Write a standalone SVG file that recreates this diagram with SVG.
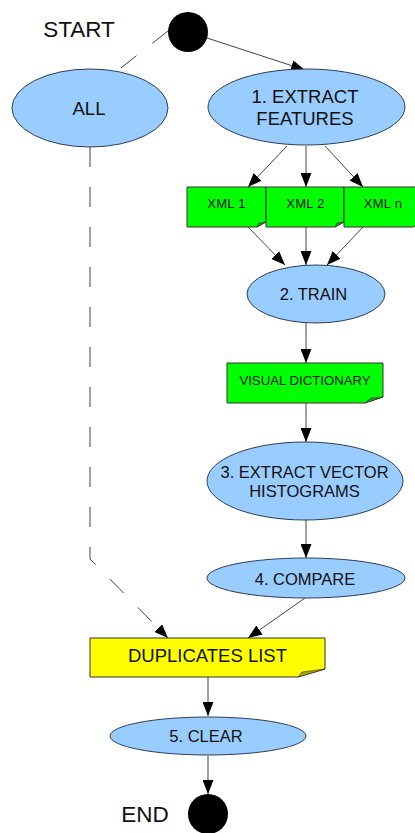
<svg xmlns="http://www.w3.org/2000/svg" width="415" height="833" viewBox="0 0 415 833">
  <defs>
    <marker id="arrow" viewBox="0 0 14 11" refX="14" refY="5.5" markerWidth="14" markerHeight="11" markerUnits="userSpaceOnUse" orient="auto">
      <path d="M0,0 L14,5.5 L0,11 Z" fill="#000"/>
    </marker>
    <style>
      text { font-family: "Liberation Sans", Arial, sans-serif; fill: #111; text-anchor: middle; }
      .step { fill: #99ccff; stroke: #2e3e52; stroke-width: 1; }
      .data { fill: #00ff00; stroke: #333; stroke-width: 1; }
      .data-fold { fill: #1e9e1e; stroke: #333; stroke-width: 0.6; }
      .result { fill: #ffff00; stroke: #333; stroke-width: 1; }
      .result-fold { fill: #a8a800; stroke: #333; stroke-width: 0.6; }
      .terminal { fill: #000; }
      .flow { fill: none; stroke: #444; stroke-width: 1; marker-end: url(#arrow); }
      .skip { fill: none; stroke: #444; stroke-width: 1; stroke-dasharray: 20 20; }
      .label-big { font-size: 22.5px; }
      .label-step { font-size: 18.5px; }
      .label-mid { font-size: 16.5px; }
      .label-small { font-size: 13px; letter-spacing: 0.3px; }
      .label-dict { font-size: 13.2px; }
    </style>
  </defs>

  <!-- connectors -->
  <g id="connectors">
    <path class="skip" d="M168,31 L117,71" stroke-dasharray="19 17"/>
    <path class="flow" d="M207,38 L305,70"/>
    <path class="flow" d="M287,146 L248,187"/>
    <path class="flow" d="M306,146 L306,187"/>
    <path class="flow" d="M325,146 L363,187"/>
    <path class="flow" d="M248,227 L285,265"/>
    <path class="flow" d="M306,227 L306,265"/>
    <path class="flow" d="M363,227 L327,265"/>
    <path class="flow" d="M306,323 L306,363"/>
    <path class="flow" d="M306,403 L306,442"/>
    <path class="flow" d="M306,520 L306,558"/>
    <path class="flow" d="M305,598 L248,638"/>
    <path class="skip" d="M90,147 V559 L168,638" marker-end="url(#arrow)"/>
    <path class="flow" d="M208,677 L208,716"/>
    <path class="flow" d="M208,756 L208,794"/>
  </g>

  <g id="start">
    <circle class="terminal" cx="188" cy="32" r="20"/>
    <text class="label-big" x="79" y="37">START</text>
  </g>

  <g id="all">
    <ellipse class="step" cx="90" cy="108" rx="78" ry="39"/>
    <text class="label-step" x="89" y="115">ALL</text>
  </g>

  <g id="extract-features">
    <ellipse class="step" cx="306.5" cy="107" rx="98.5" ry="38"/>
    <text class="label-step" x="305" y="103">1. EXTRACT</text>
    <text class="label-step" x="305" y="124.5">FEATURES</text>
  </g>

  <g id="xml-1">
    <path class="data" d="M187,187 H266 V222 L257,227 H187 Z"/>
    <path class="data-fold" d="M257,227 L259,223 L266,222 Z"/>
    <text class="label-small" x="226.5" y="208">XML 1</text>
  </g>

  <g id="xml-2">
    <path class="data" d="M266,187 H344 V222 L335,227 H266 Z"/>
    <path class="data-fold" d="M335,227 L337,223 L344,222 Z"/>
    <text class="label-small" x="305.5" y="208">XML 2</text>
  </g>

  <g id="xml-n">
    <path class="data" d="M344,187 H422 V222 L413,227 H344 Z"/>
    <text class="label-small" x="383" y="208">XML n</text>
  </g>

  <g id="train">
    <ellipse class="step" cx="316" cy="294" rx="69" ry="29"/>
    <text class="label-mid" x="313.5" y="300">2. TRAIN</text>
  </g>

  <g id="visual-dictionary">
    <path class="data" d="M227,363 H383 V397 L365,403 H227 Z"/>
    <path class="data-fold" d="M365,403 L371,398 L383,397 Z"/>
    <text class="label-dict" x="305" y="385">VISUAL DICTIONARY</text>
  </g>

  <g id="extract-histograms">
    <ellipse class="step" cx="305" cy="481" rx="98" ry="39"/>
    <text class="label-mid" x="304.5" y="478">3. EXTRACT VECTOR</text>
    <text class="label-mid" x="304.5" y="497">HISTOGRAMS</text>
  </g>

  <g id="compare">
    <ellipse class="step" cx="306" cy="578" rx="99" ry="20"/>
    <text class="label-mid" x="305" y="585">4. COMPARE</text>
  </g>

  <g id="duplicates-list">
    <path class="result" d="M90,638 H325 V669 L298,677 H90 Z"/>
    <path class="result-fold" d="M298,677 L302,672 L325,669 Z"/>
    <text class="label-step" x="207.5" y="662">DUPLICATES LIST</text>
  </g>

  <g id="clear">
    <ellipse class="step" cx="208" cy="736" rx="98" ry="19"/>
    <text class="label-mid" x="206" y="742">5. CLEAR</text>
  </g>

  <g id="end">
    <circle class="terminal" cx="208" cy="814" r="20"/>
    <text class="label-big" x="145" y="822">END</text>
  </g>
</svg>
